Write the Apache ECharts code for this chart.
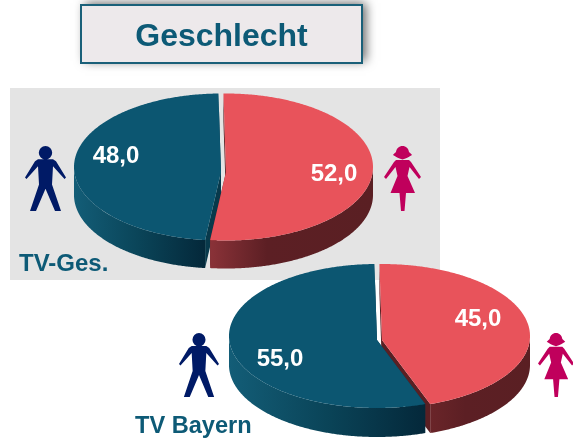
<!DOCTYPE html>
<html>
<head>
<meta charset="utf-8">
<title>Geschlecht</title>
<script src="https://cdn.jsdelivr.net/npm/echarts@6/dist/echarts.min.js"></script>
<style>
  html, body { margin: 0; padding: 0; background: #fff; }
  #myChart { width: 573px; height: 438px; }
</style>
</head>
<body>
<div id="myChart"></div>
<script>
const categories = ['Männer', 'Frauen'];
const tvGes = [48.0, 52.0];
const tvBayern = [55.0, 45.0];
const pieTitles = ['TV-Ges.', 'TV Bayern'];
const chartTitle = 'Geschlecht';

const FONT = '"Liberation Sans", Arial, sans-serif';
const TEAL = '#0d5a76';
const faceColors = ['#0c5671', '#e8535b'];
const iconColors = ['#001a66', '#c0005c'];
const ROTATE = -1; // leichte Drehung der Torte in Grad

// Lage der beiden Torten, Frauen-Anteil startet oben und läuft im Uhrzeigersinn
const pieLayouts = [
  {
    cx: 223.5, cy: 167, rx: 147, ry: 73.5, depth: 28, apexDy: 5,
    dx: [-2.5, 2.5], order: [0, 1], redSideStart: '#8a3238',
    labels: [[116, 156], [334, 174]],
    icons: [[25, 146, 41, 65], [384, 146, 37, 65]]
  },
  {
    cx: 380, cy: 336, rx: 148, ry: 72, depth: 29, apexDy: 4,
    dx: [-3, 2], order: [1, 0], redSideStart: '#6a2529',
    labels: [[280, 359], [478, 319]],
    icons: [[179, 333, 40, 64], [538, 333, 36, 64]]
  }
];

const manPath = 'M13 13L28 13L31 15L41 31L39.5 32.5L28 20L27 38L36 64L30 64L20.5 42L11 64L5 64L14 38L13 20L1.5 32.5L0 31L10 15Z'
  + 'M20.5 0A6.7 6.7 0 1 1 20.49 0Z';
const womanPath = 'M12 14L25 14L27 16L37 31L35 33L25.5 21L23.5 30L31 47L22 47L20.5 65L17 65L15.5 47L6.5 47L13.5 30L11.5 21L2 33L0 31L10 16Z'
  + 'M18.5 0C22 0 24.5 2.5 25 6C26 7 27.5 8 28 9C25 10.5 23 12.5 18.5 13.5C14 12.5 12 10.5 9 9C9.5 8 11 7 12 6C12.5 2.5 15 0 18.5 0Z';
const iconPaths = [manPath, womanPath];

function rimPoint(p, dx, deg, drop) {
  const t = deg * Math.PI / 180;
  return [p.cx + dx + p.rx * Math.sin(t), p.cy + p.ry * -Math.cos(t) + (drop || 0)];
}

function arcPoints(p, dx, from, to, drop) {
  const pts = [];
  const steps = Math.max(2, Math.ceil((to - from) * 2));
  for (let i = 0; i <= steps; i++) {
    pts.push(rimPoint(p, dx, from + (to - from) * i / steps, drop));
  }
  return pts;
}

function sideGradient(catIndex, p) {
  if (catIndex === 0) {
    return new echarts.graphic.LinearGradient(0, 0, 1, 0, [
      { offset: 0, color: '#135d77' },
      { offset: 0.5, color: '#0a4458' },
      { offset: 1, color: '#04283a' }
    ]);
  }
  return new echarts.graphic.LinearGradient(0, 0, 1, 0, [
    { offset: 0, color: p.redSideStart },
    { offset: 0.35, color: '#5c1f24' },
    { offset: 1, color: '#5a1f23' }
  ]);
}

function renderSlice(pieIndex, params, api) {
  const p = pieLayouts[pieIndex];
  const value = api.value(0);
  const startShare = api.value(1);
  const catIndex = api.value(2);
  const from = startShare * 3.6 + ROTATE;
  const to = (startShare + value) * 3.6 + ROTATE;
  const dx = p.dx[catIndex];
  const apex = [p.cx + dx, p.cy + p.apexDy];
  const apexLow = [apex[0], apex[1] + p.depth];
  const wallColor = catIndex === 0 ? '#08394b' : '#5a1f23';
  const children = [];

  // Schnittflächen
  [from, to].forEach(function (deg) {
    children.push({
      type: 'polygon',
      shape: { points: [apex, rimPoint(p, dx, deg), rimPoint(p, dx, deg, p.depth), apexLow] },
      style: { fill: wallColor }
    });
  });

  // sichtbarer Rand, nur die vordere Hälfte
  const a = Math.max(from, 90);
  const b = Math.min(to, 270);
  if (b > a) {
    const upper = arcPoints(p, dx, a, b, 0);
    const lower = arcPoints(p, dx, a, b, p.depth).reverse();
    children.push({
      type: 'polygon',
      shape: { points: upper.concat(lower) },
      style: { fill: sideGradient(catIndex, p) }
    });
  }

  // Deckfläche
  children.push({
    type: 'polygon',
    shape: { points: [apex].concat(arcPoints(p, dx, from, to, 0)) },
    style: { fill: faceColors[catIndex] }
  });

  const pos = p.labels[catIndex];
  children.push({
    type: 'text',
    style: {
      text: value.toFixed(1).replace('.', ','),
      x: pos[0], y: pos[1],
      fill: '#fff',
      fontFamily: FONT, fontWeight: 'bold', fontSize: 24,
      align: 'center', verticalAlign: 'middle'
    }
  });

  // Piktogramm neben der Torte
  const box = p.icons[catIndex];
  children.push({
    type: 'path',
    shape: { pathData: iconPaths[catIndex], layout: 'cover', x: box[0], y: box[1], width: box[2], height: box[3] },
    style: { fill: iconColors[catIndex] }
  });

  return { type: 'group', children: children };
}

// Zeilen: Wert, Startanteil, Kategorie. Reihenfolge = Zeichenreihenfolge
function pieRows(values, order) {
  const starts = [values[1], 0];
  return order.map(function (i) {
    return { name: categories[i], value: [values[i], starts[i], i] };
  });
}

function pieTitle(text, x, y, size) {
  return {
    type: 'text',
    style: {
      text: text, x: x, y: y, fill: TEAL,
      fontFamily: FONT, fontWeight: 'bold', fontSize: size,
      align: 'left', verticalAlign: 'middle'
    }
  };
}

const myChart = echarts.init(document.getElementById('myChart'), null, { renderer: 'canvas' });
myChart.setOption({
  animation: false,
  backgroundColor: '#fff',
  graphic: {
    elements: [
      { type: 'rect', shape: { x: 10, y: 88, width: 430, height: 192 }, style: { fill: '#e4e4e4' } },
      {
        type: 'rect',
        shape: { x: 81, y: 5, width: 281, height: 58 },
        style: {
          fill: '#ede9eb',
          shadowBlur: 10, shadowOffsetX: 4, shadowOffsetY: -2, shadowColor: 'rgba(0,0,0,0.6)'
        }
      },
      {
        type: 'rect',
        shape: { x: 81, y: 5, width: 281, height: 58 },
        style: { fill: 'transparent', stroke: '#1a6079', lineWidth: 2 }
      },
      {
        type: 'text',
        style: {
          text: chartTitle, x: 221.5, y: 37, fill: TEAL,
          fontFamily: FONT, fontWeight: 'bold', fontSize: 32,
          align: 'center', verticalAlign: 'middle'
        }
      },
      pieTitle(pieTitles[0], 19, 264, 24),
      pieTitle(pieTitles[1], 135, 426, 23.6)
    ]
  },
  series: [
    {
      type: 'custom',
      coordinateSystem: 'none',
      renderItem: function (params, api) { return renderSlice(0, params, api); },
      data: pieRows(tvGes, pieLayouts[0].order)
    },
    {
      type: 'custom',
      coordinateSystem: 'none',
      renderItem: function (params, api) { return renderSlice(1, params, api); },
      data: pieRows(tvBayern, pieLayouts[1].order)
    }
  ]
});
</script>
</body>
</html>
